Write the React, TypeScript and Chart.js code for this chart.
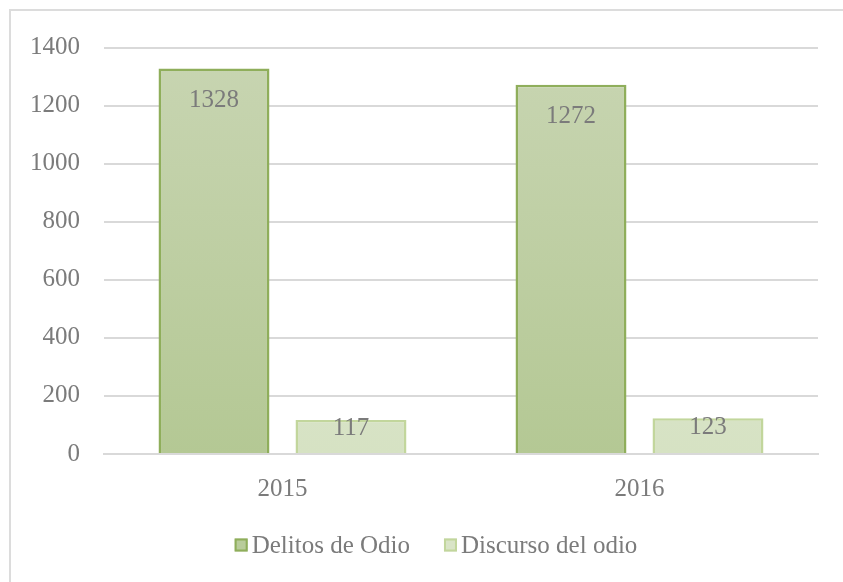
import React, { useEffect, useRef } from "react";
import { Chart, registerables } from "chart.js";

Chart.register(...registerables);

const categories = ["2015", "2016"];
const delitos = [1328, 1272];
const discurso = [117, 123];
const seriesNames = ["Delitos de Odio", "Discurso del odio"];
const yTicks = { min: 0, max: 1400, step: 200 };

const FONT = "'Liberation Serif', 'DejaVu Serif', serif";
const TEXT = "#7b7b7b";
const FS = 25;

function makeGrad(ctx: CanvasRenderingContext2D, area: any, top: string, bottom: string) {
  const g = ctx.createLinearGradient(0, area.top, 0, area.bottom);
  g.addColorStop(0, top);
  g.addColorStop(1, bottom);
  return g;
}

const labelPlugin = {
  id: "barLabels",
  afterDatasetsDraw(chart: any) {
    const ctx = chart.ctx;
    ctx.save();
    ctx.font = `${FS}px ${FONT}`;
    ctx.fillStyle = TEXT;
    ctx.textAlign = "center";
    ctx.textBaseline = "middle";
    chart.data.datasets.forEach((ds: any, di: number) => {
      const meta = chart.getDatasetMeta(di);
      meta.data.forEach((bar: any, i: number) => {
        const h = bar.base - bar.y;
        const off = Math.min(32, h * 0.25);
        ctx.fillText(String(ds.data[i]), bar.x, bar.y + off);
      });
    });
    ctx.restore();
  },
};

const legendPlugin = {
  id: "customLegend",
  afterDraw(chart: any) {
    const ctx = chart.ctx;
    ctx.save();
    ctx.font = `${FS}px ${FONT}`;
    ctx.textBaseline = "middle";
    ctx.textAlign = "left";
    const y = 534;
    const box = 13;
    const gapBoxText = 4;
    const gapItems = 34;
    const widths = seriesNames.map((n) => box + gapBoxText + ctx.measureText(n).width);
    const total = widths[0] + gapItems + widths[1];
    let x = 425 - total / 2;
    const fills = ["#b9cc9b", "#d9e4c7"];
    const borders = ["#8fae5b", "#c2d69c"];
    seriesNames.forEach((n, i) => {
      ctx.fillStyle = fills[i];
      ctx.fillRect(x, y - box / 2, box, box);
      ctx.strokeStyle = borders[i];
      ctx.lineWidth = 2;
      ctx.strokeRect(x + 1, y - box / 2 + 1, box - 2, box - 2);
      ctx.fillStyle = TEXT;
      ctx.fillText(n, x + box + gapBoxText, y + 1);
      x += widths[i] + gapItems;
    });
    ctx.restore();
  },
};

export default function App() {
  const ref = useRef<HTMLCanvasElement>(null);
  useEffect(() => {
    document.body.style.margin = "0";
    document.body.style.overflow = "hidden";
    const c = ref.current!;
    const chart = new Chart(c, {
      type: "bar",
      data: {
        labels: categories,
        datasets: [
          {
            label: seriesNames[0],
            data: delitos,
            backgroundColor: (ctx: any) => {
              const a = ctx.chart.chartArea;
              if (!a) return "#bccea0";
              return makeGrad(ctx.chart.ctx, a, "#c8d5b2", "#b4c894");
            },
            borderColor: "#8fae5b",
            borderWidth: 2.5,
            borderSkipped: "bottom",
            categoryPercentage: 0.7675,
            barPercentage: 0.81,
          },
          {
            label: seriesNames[1],
            data: discurso,
            backgroundColor: (ctx: any) => {
              const a = ctx.chart.chartArea;
              if (!a) return "#d9e4c7";
              return makeGrad(ctx.chart.ctx, a, "#e2eadb", "#d6e2c3");
            },
            borderColor: "#c2d69c",
            borderWidth: 2.5,
            borderSkipped: "bottom",
            categoryPercentage: 0.7675,
            barPercentage: 0.81,
          },
        ],
      },
      options: {
        animation: false,
        responsive: false,
        maintainAspectRatio: false,
        layout: { padding: { left: 0, top: 32, right: 25, bottom: 68 } },
        plugins: { legend: { display: false }, tooltip: { enabled: false } },
        scales: {
          x: {
            grid: { display: false, drawTicks: false },
            border: { display: true, color: "#d9d9d9", width: 2 },
            ticks: { color: TEXT, font: { family: FONT, size: FS }, padding: 20 },
            afterFit: (s: any) => {
              s.height = 60;
            },
          },
          y: {
            min: yTicks.min,
            max: yTicks.max,
            ticks: {
              stepSize: yTicks.step,
              color: TEXT,
              font: { family: FONT, size: FS, lineHeight: 1 },
              padding: 24,
              callback: (v: any) => String(v),
            },
            grid: { color: "#d9d9d9", lineWidth: 2, drawTicks: false },
            border: { display: false },
            afterFit: (s: any) => {
              s.width = 93;
            },
          },
        },
      },
      plugins: [labelPlugin, legendPlugin],
    } as any);
    return () => chart.destroy();
  }, []);
  return (
    <div
      style={{
        position: "absolute",
        left: 9,
        top: 9,
        width: 834,
        height: 573,
        borderTop: "2px solid #dcdcdc",
        borderLeft: "2px solid #dcdcdc",
        boxSizing: "border-box",
        background: "#fff",
      }}
    >
      <canvas ref={ref} width={832} height={571} style={{ display: "block" }} />
    </div>
  );
}
